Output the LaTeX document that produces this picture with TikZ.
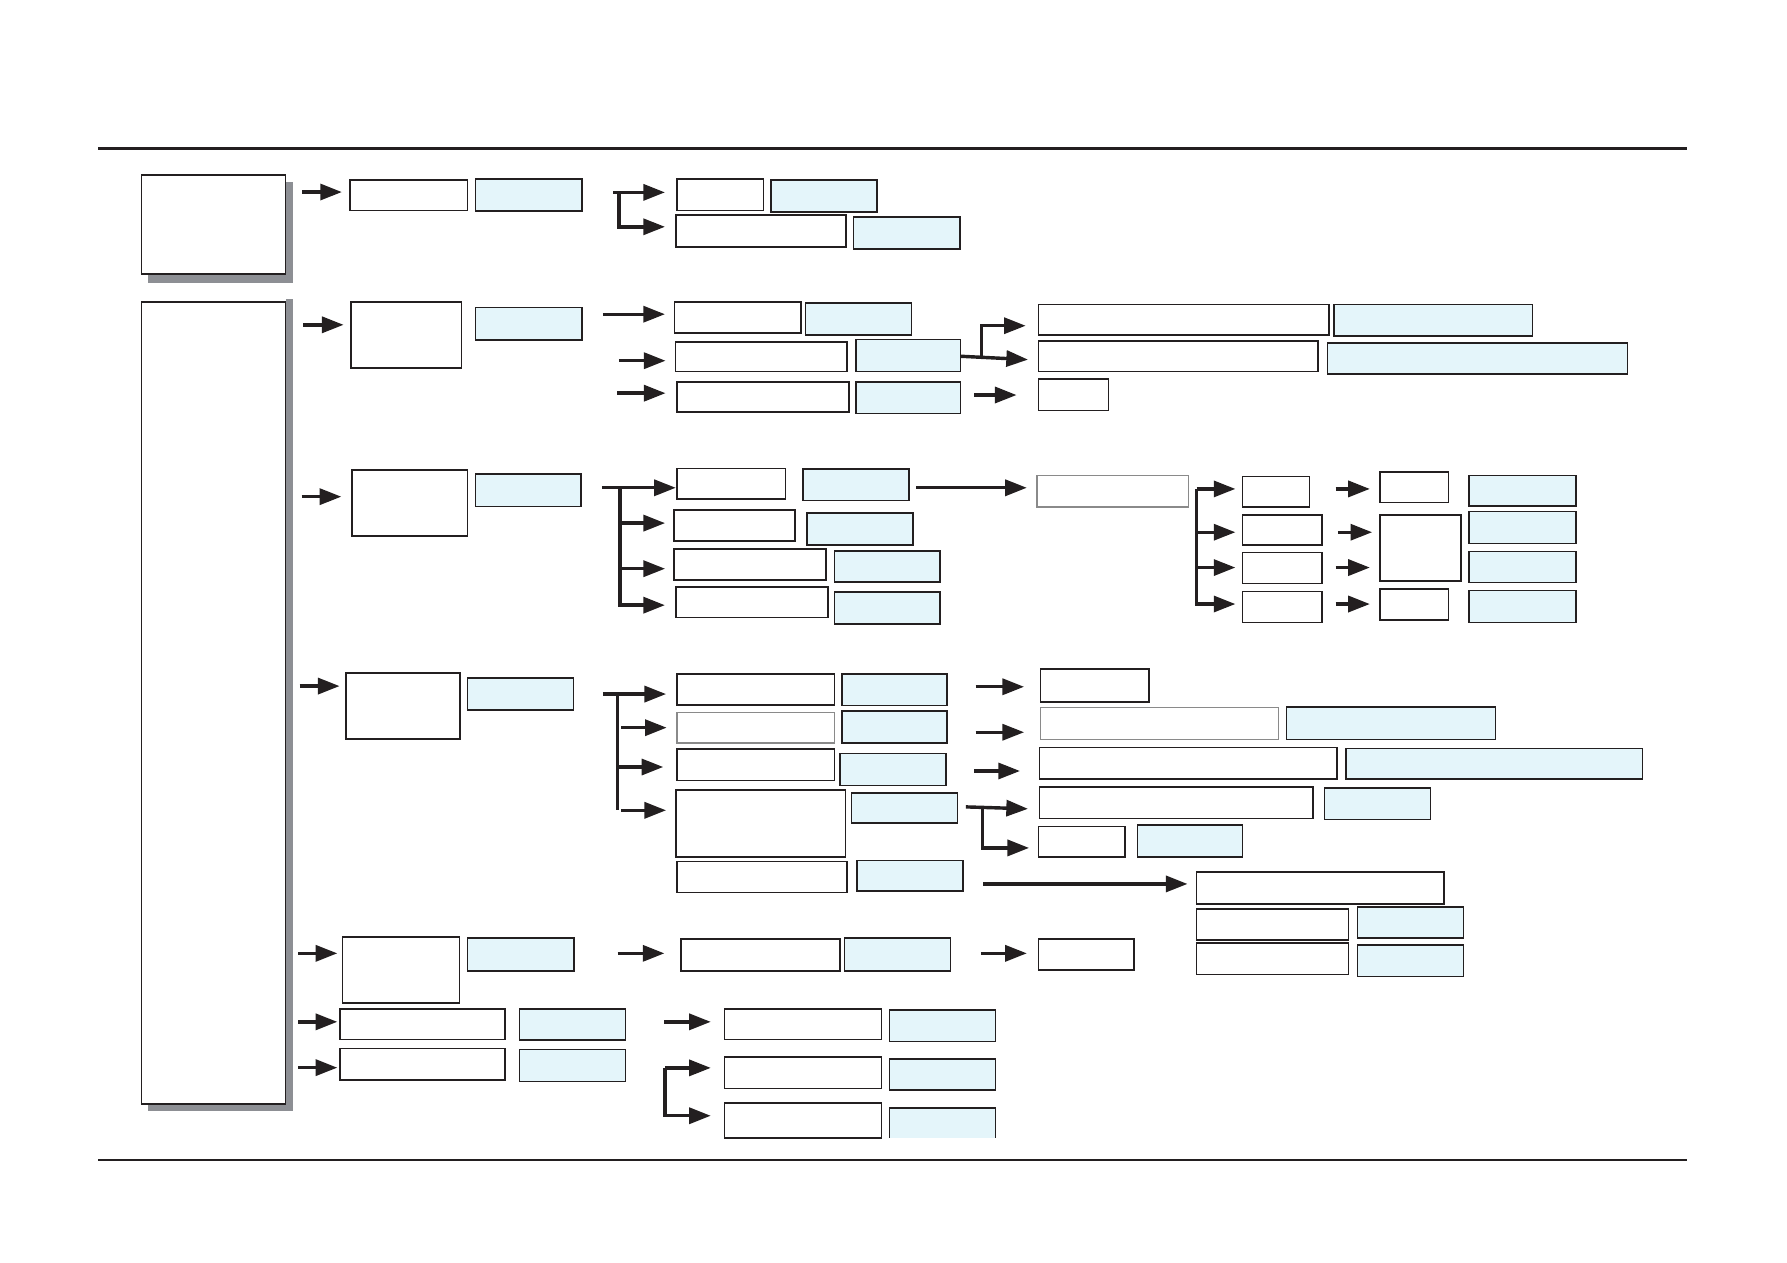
\documentclass[tikz,border=0pt]{standalone}
\usetikzlibrary{arrows.meta}
\definecolor{bdr}{HTML}{231F20}
\definecolor{lblue}{HTML}{E4F5FA}
\definecolor{shd}{HTML}{8D8F94}
\definecolor{gbdr}{HTML}{8A8A8A}
\tikzset{
  wbox/.style={draw=bdr, fill=white, line width=0.65pt, inner sep=0pt, outer sep=0pt},
  bbox/.style={wbox, fill=lblue},
  gbox/.style={wbox, draw=gbdr},
  obox/.style={fill=lblue, inner sep=0pt, outer sep=0pt},
  arr/.style={draw=bdr, line width=1.5pt, line join=miter, -{Triangle[length=9.5pt,width=7pt]}},
  lin/.style={draw=bdr, line width=1.5pt, line join=miter}
}
\newcommand\mybox[6]{\node[#2, anchor=north west, minimum width={(#5-#3)*0.5pt}, minimum height={(#6-#4)*0.5pt}] (#1) at (#3,#4) {};}
\newcommand\myarr[4]{\draw[arr, shorten >={#4*0.5pt}] (#1,#2) -- (#3.west |- 0,#2);}
\begin{document}
\begin{tikzpicture}[x=0.5pt,y=-0.5pt]
\useasboundingbox (0,0) rectangle (1568,1108);
% rules
\draw[bdr, line width=1.3pt] (86,130) -- (1480,130);
\draw[bdr, line width=0.9pt] (86,1017.5) -- (1480,1017.5);
% shadows
\fill[shd] (129.6,160) rectangle (257,248);
\fill[shd] (250.6,262) rectangle (257,974.5);
\fill[shd] (129.6,968.7) rectangle (257,974.5);
% main boxes
\mybox{A}{wbox}{124.3}{153.7}{250.6}{240.5}
\mybox{B}{wbox}{124.3}{265}{250.6}{968.7}
% row 1
\mybox{r1a}{wbox}{307}{158}{410.4}{184.5}
\mybox{r1b}{bbox}{417}{157}{510.5}{185}
\mybox{r1c}{wbox}{594}{157}{669.7}{184.5}
\mybox{r1d}{bbox}{676.5}{158}{769.5}{186}
\mybox{r1e}{wbox}{593}{188.7}{742.5}{216.8}
\mybox{r1f}{bbox}{749}{190.5}{842.5}{218.5}
% row 2
\mybox{r2a}{wbox}{308}{265}{405}{323}
\mybox{r2b}{bbox}{417}{270}{510.5}{298.5}
\mybox{r2c}{wbox}{592}{265}{703}{292}
\mybox{r2d}{bbox}{707}{266}{800}{294}
\mybox{r2e}{wbox}{592.6}{300}{743}{326}
\mybox{r2f}{bbox}{751}{298}{843}{326}
\mybox{r2g}{wbox}{594}{335}{745}{361.6}
\mybox{r2h}{bbox}{751}{335}{843}{362.7}
\mybox{r2i}{wbox}{911}{267}{1166}{294}
\mybox{r2j}{bbox}{1170.6}{267}{1344.7}{295}
\mybox{r2k}{wbox}{911}{299}{1156.6}{326}
\mybox{r2l}{bbox}{1165}{301}{1428}{328}
\mybox{r2m}{wbox}{911}{332.6}{972.6}{360}
% row 3
\mybox{r3a}{wbox}{309}{412.6}{410}{470.5}
\mybox{r3b}{bbox}{417}{416}{510}{444.5}
\mybox{r3c}{wbox}{594}{411}{689}{438}
\mybox{r3d}{bbox}{704.6}{411.6}{797.6}{439}
\mybox{r3e}{wbox}{591.6}{447.6}{697.6}{474.7}
\mybox{r3f}{bbox}{708}{450}{801}{478}
\mybox{r3g}{wbox}{591.6}{481.7}{724.8}{509}
\mybox{r3h}{bbox}{732}{483.6}{825}{510.7}
\mybox{r3i}{wbox}{593}{515}{726.5}{542}
\mybox{r3j}{bbox}{732}{519.5}{825}{547.6}
\mybox{r3k}{gbox}{910}{417.4}{1043}{445}
\mybox{r3l}{wbox}{1090}{418}{1149}{445}
\mybox{r3m}{wbox}{1090}{452}{1160}{478}
\mybox{r3n}{wbox}{1090}{485}{1160}{512}
\mybox{r3o}{wbox}{1090}{519}{1160}{546}
\mybox{r3p}{wbox}{1211}{414}{1271}{441}
\mybox{r3q}{wbox}{1211}{452}{1282}{510}
\mybox{r3r}{wbox}{1211}{517}{1271}{544}
\mybox{r3s}{bbox}{1289}{417}{1383}{444}
\mybox{r3t}{bbox}{1289}{449}{1383}{477}
\mybox{r3u}{bbox}{1289}{484}{1383}{511}
\mybox{r3v}{bbox}{1289}{518}{1383}{546}
% row 4
\mybox{r4a}{wbox}{303.7}{590.6}{403.7}{648.5}
\mybox{r4b}{bbox}{410}{595}{503}{623}
\mybox{r4c}{wbox}{594}{591.6}{732}{618.7}
\mybox{r4d}{bbox}{739}{591.6}{831}{619}
\mybox{r4e}{gbox}{594}{625}{732}{652}
\mybox{r4f}{bbox}{739}{624}{831}{652}
\mybox{r4g}{wbox}{594}{657}{732}{685}
\mybox{r4h}{bbox}{737}{661}{830}{689}
\mybox{r4i}{wbox}{593}{693}{742}{752}
\mybox{r4j}{bbox}{747}{696}{840}{722}
\mybox{r4k}{wbox}{594}{756}{743}{783}
\mybox{r4l}{bbox}{752}{755}{845}{782}
\mybox{r4m}{wbox}{913}{587}{1008}{616}
\mybox{r4n}{gbox}{913}{621}{1122}{649}
\mybox{r4o}{bbox}{1129}{620.5}{1312}{649}
\mybox{r4p}{wbox}{912}{655.7}{1173}{683.5}
\mybox{r4q}{bbox}{1181}{656.6}{1441}{683.5}
\mybox{r4r}{wbox}{912}{690.6}{1152}{718}
\mybox{r4s}{bbox}{1162}{691.6}{1255}{719}
\mybox{r4t}{wbox}{911}{725}{987}{752}
\mybox{r4u}{bbox}{998}{724}{1090}{752}
\mybox{r4v}{wbox}{1050}{765}{1267}{793}
\mybox{r4w}{wbox}{1050}{797.6}{1183}{825}
\mybox{r4x}{bbox}{1191}{796}{1284}{823}
\mybox{r4y}{wbox}{1050}{827.5}{1183}{855}
\mybox{r4z}{bbox}{1191}{829}{1284}{857}
% row 5
\mybox{r5a}{wbox}{300.7}{822}{403}{880}
\mybox{r5b}{bbox}{410}{823}{503.5}{852}
\mybox{r5c}{wbox}{597.6}{824}{737}{852}
\mybox{r5d}{bbox}{741}{823}{834}{852}
\mybox{r5e}{wbox}{911}{824}{995}{851}
% row 6
\mybox{r6a}{wbox}{298.5}{885.5}{443}{912}
\mybox{r6b}{bbox}{456}{885.5}{549}{912.6}
\mybox{r6c}{wbox}{298.5}{920}{443}{947.6}
\mybox{r6d}{bbox}{456}{921}{549}{949}
\mybox{r6e}{wbox}{635.7}{885.5}{773.5}{912}
\mybox{r6f}{bbox}{780.6}{886}{873.7}{914}
\mybox{r6g}{wbox}{635.7}{927.6}{773.5}{955}
\mybox{r6h}{bbox}{780.6}{929}{873.7}{956.6}
\mybox{r6i}{wbox}{635.7}{968}{773.5}{998.5}
\mybox{r6j}{obox}{780.6}{972}{873.7}{998.5}
\draw[bdr, line width=0.65pt] (r6j.south west) -- (r6j.north west) -- (r6j.north east) -- (r6j.south east);
% ---------- connectors ----------
% row 1
\myarr{265}{168.5}{r1a}{7}
\draw[arr, shorten >=5.25pt] (538,168.8) -- (r1c.west |- 0,168.8);
\draw[arr, shorten >=4.75pt] (543,168.8) |- (r1e.west |- 0,199);
% row 2
\myarr{266}{285}{r2a}{6.5}
\myarr{529}{275.7}{r2c}{8.5}
\myarr{543}{316.5}{r2e}{8.6}
\myarr{541.5}{345}{r2g}{10}
\draw[arr, shorten >=4.5pt] (r2f.east |- 0,312.6) -- (r2k.west |- 0,316);
\draw[arr, shorten >=5.5pt] (861,313.6) |- (r2i.west |- 0,285.8);
\myarr{855}{346.6}{r2m}{19}
% row 3
\myarr{264.7}{435.8}{r3a}{9.5}
\draw[arr, shorten >=0.5pt] (528,428) -- (r3c.west |- 0,428);
\draw[arr, shorten >=4.75pt] (544,428) |- (r3i.west |- 0,531);
\draw[arr, shorten >=4pt] (544,459) -- (r3e.west |- 0,459);
\draw[arr, shorten >=4pt] (544,499) -- (r3g.west |- 0,499);
\myarr{804}{428}{r3k}{9}
\draw[arr, shorten >=3pt] (1050,429) -- (r3l.west |- 0,429);
\draw[arr, shorten >=3pt] (1050,429) |- (r3o.west |- 0,530);
\draw[arr, shorten >=3pt] (1050,467) -- (r3m.west |- 0,467);
\draw[arr, shorten >=3pt] (1050,498) -- (r3n.west |- 0,498);
\myarr{1172}{429}{r3p}{9}
\myarr{1174}{467}{r3q}{7}
\myarr{1172}{498}{r3q}{9}
\myarr{1172}{530}{r3r}{9}
% row 4
\myarr{263}{602}{r4a}{5.7}
\draw[arr, shorten >=4.75pt] (529,609) -- (r4c.west |- 0,609);
\draw[lin] (541.6,609) -- (541.6,711);
\myarr{545}{638.5}{r4e}{9}
\draw[arr, shorten >=6pt] (541.6,673) -- (r4g.west |- 0,673);
\myarr{545}{711}{r4i}{8.5}
\myarr{856}{602.6}{r4m}{14.4}
\myarr{856}{642.5}{r4n}{14.4}
\myarr{855}{676.5}{r4p}{17}
\draw[arr, shorten >=5pt] (847.5,708) -- (r4r.west |- 0,710);
\draw[arr, shorten >=4pt] (862,708.3) |- (r4t.west |- 0,744);
\myarr{862.6}{775.6}{r4v}{8}
% row 5
\myarr{261.6}{836.5}{r5a}{4.7}
\myarr{542}{836.5}{r5c}{14.6}
\myarr{860.6}{836.5}{r5e}{10}
% row 6
\myarr{261.6}{896.6}{r6a}{2.5}
\myarr{261.6}{936.8}{r6c}{2.5}
\myarr{582.7}{896.6}{r6e}{12}
\draw[arr, shorten >=6pt] (583.6,937) -- (r6g.west |- 0,937);
\draw[arr, shorten >=6pt] (583.6,937) |- (r6i.west |- 0,979);
\end{tikzpicture}
\end{document}
